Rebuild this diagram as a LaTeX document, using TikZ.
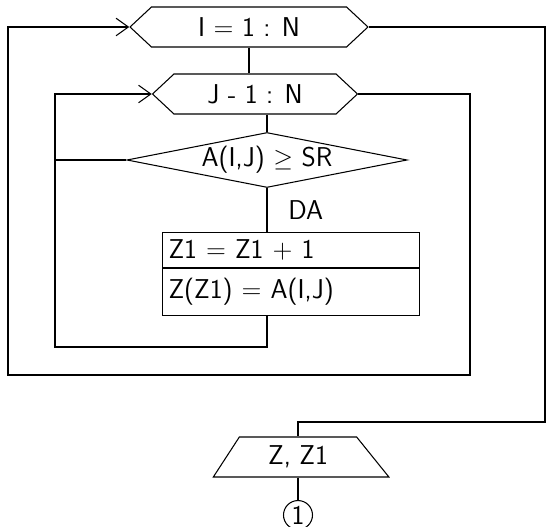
\documentclass[tikz,border=0pt]{standalone}
\usetikzlibrary{shapes.geometric, shapes.symbols, positioning, arrows.meta}

\begin{document}
\begin{tikzpicture}[
        x=0.02cm, y=-0.02cm,
        font=\sffamily\fontsize{15.5}{19}\selectfont,
        loophex/.style={draw, semithick, signal, signal to=west and east, signal pointer angle=86, inner sep=0pt, minimum height=0.8cm},
        testbox/.style={draw, semithick, diamond, aspect=5.5, inner sep=0pt, minimum width=5.42cm, minimum height=1.1cm},
        stepbox/.style={draw, semithick, rectangle, text width=4.9cm, inner xsep=0.12cm, align=left},
        iobox/.style={draw, semithick, trapezium, trapezium left angle=65, trapezium right angle=60, trapezium stretches=true, minimum width=3.52cm, minimum height=0.8cm},
        joint/.style={draw, semithick, circle, inner sep=0pt, minimum size=0.58cm},
        flow/.style={semithick},
        back/.style={semithick, -{Straight Barb[length=7pt, width=10pt]}}
      ]
        \useasboundingbox (0,0) rectangle (549,527);

        \node[loophex, minimum width=4.76cm] (iloop) at (249,27) {I = 1 : N};
        \node[loophex, minimum width=4.1cm] (jloop) at (255,94) {J - 1 : N};
        \node[testbox] (test) at (267,160) {A(I,J) $\geq$ SR};
        \node[stepbox, minimum height=0.7cm] (count) at (291,250) {Z1 = Z1 + 1};
        \node[stepbox, minimum height=0.94cm, below=0pt of count] (store) {Z(Z1) = A(I,J)};
        \node[iobox] (print) at (298,457) {Z, Z1};
        \node[joint, below=0.45cm of print] (cont) {1};

        \coordinate (jback) at (55,347);
        \coordinate (jout) at (470,375);
        \coordinate (iback) at (8,375);
        \coordinate (iout) at (545,422);

        \draw[flow] (iloop.south) -- (iloop.south |- jloop.north);
        \draw[flow] (test.north |- jloop.south) -- (test.north);
        \draw[flow] (test.south) -- (test.south |- count.north) node[midway, right=0.3cm] {DA};
        \draw[flow] (test.west) -- (test.west -| jback);

        \draw[back] (test.south |- store.south) -- (test.south |- jback) -- (jback) -- (jback |- jloop.west) -- (jloop.west);
        \draw[back] (jloop.east) -- (jloop.east -| jout) -- (jout) -- (iback) -- (iback |- iloop.west) -- (iloop.west);

        \draw[flow] (iloop.east) -- (iloop.east -| iout) -- (iout) -- (iout -| print.north) -- (print.north);
        \draw[flow] (print.south) -- (cont);
      \end{tikzpicture}
\end{document}
